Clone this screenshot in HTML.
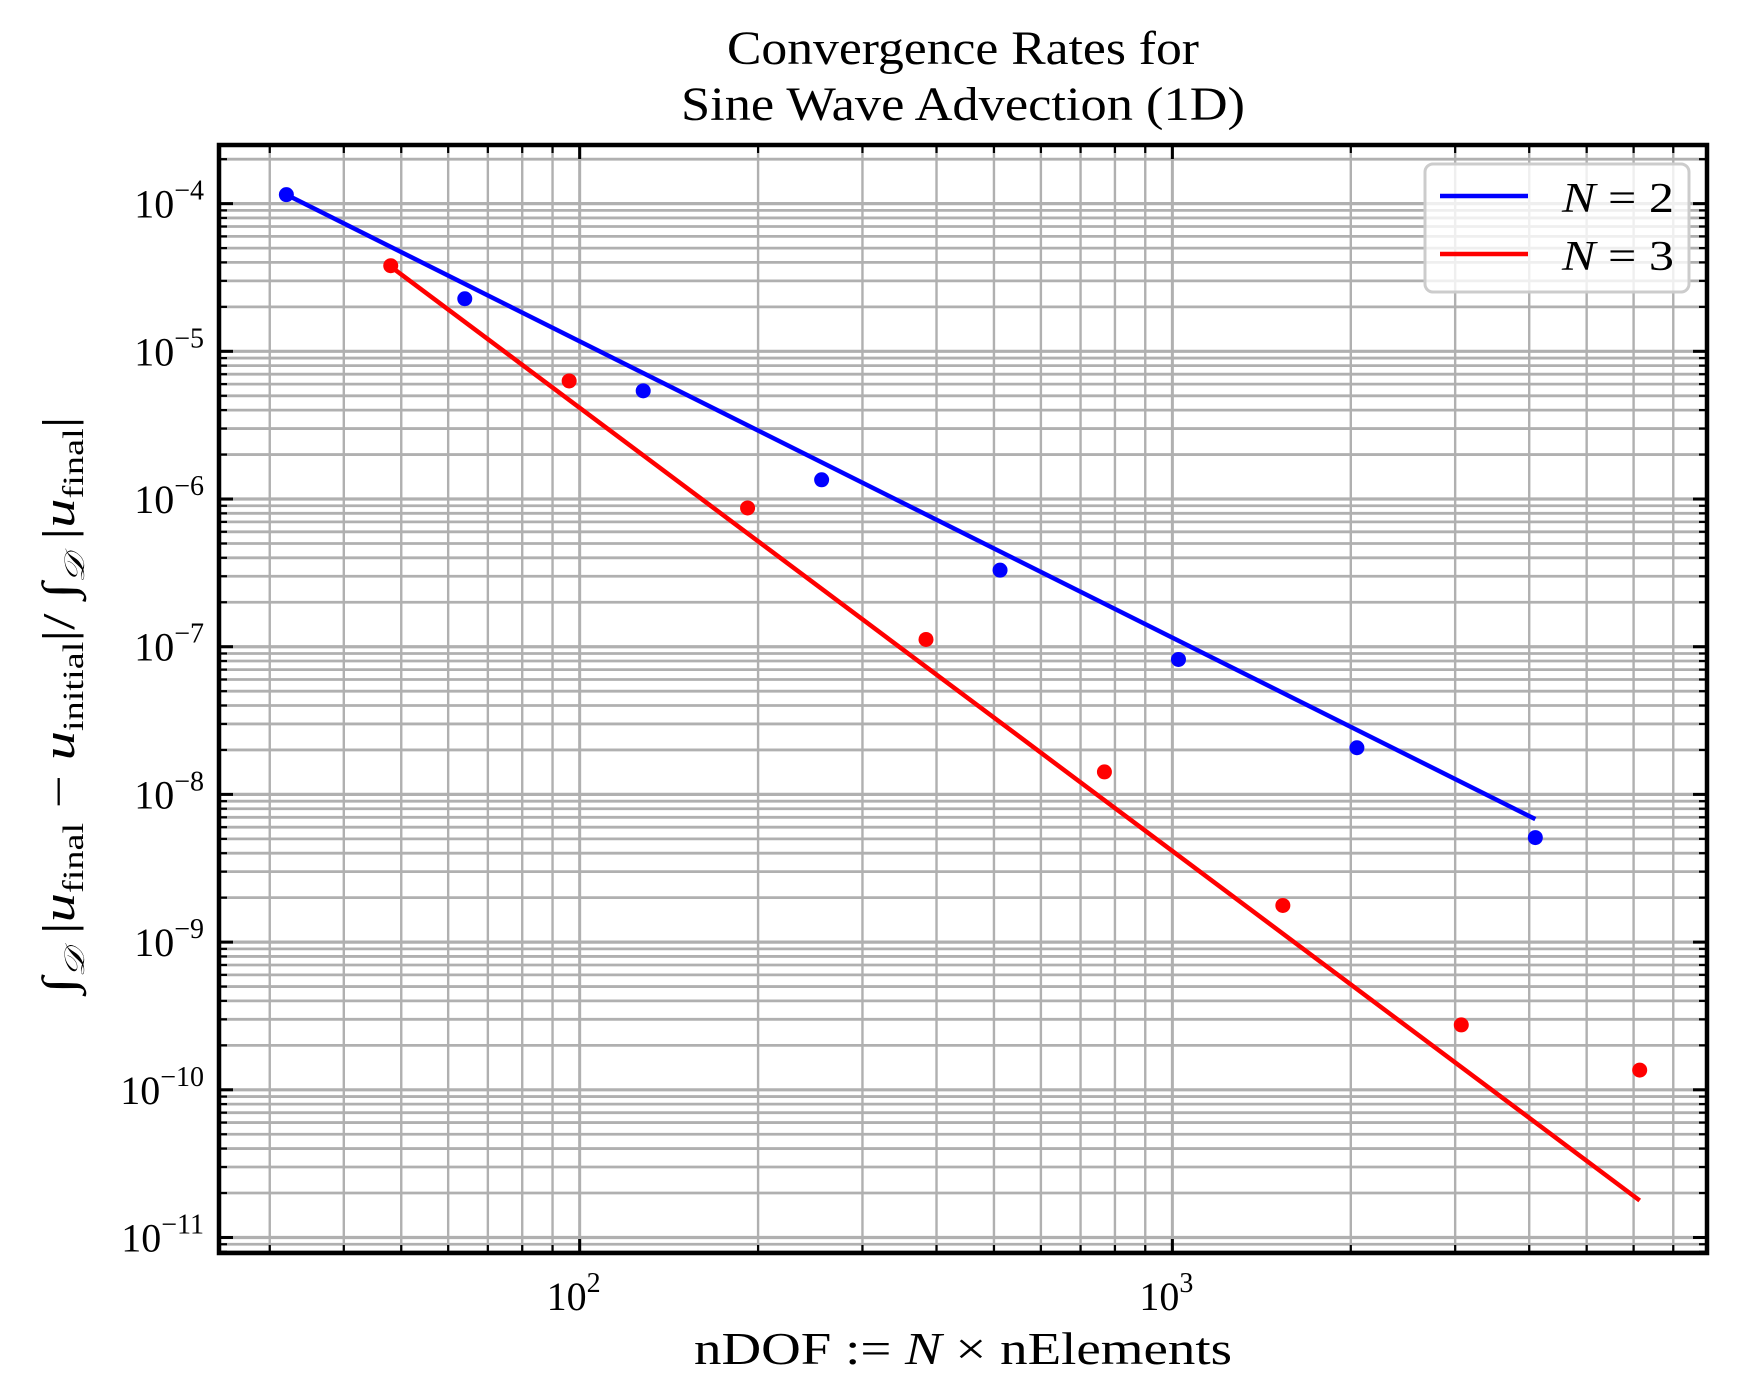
<!DOCTYPE html>
<html><head><meta charset="utf-8"><style>
body{margin:0;background:#fff}
svg{display:block;font-family:"Liberation Serif",serif}
</style></head><body>
<svg id="chart" width="1737" height="1395" viewBox="0 0 1737 1395" xmlns="http://www.w3.org/2000/svg">
<rect width="1737" height="1395" fill="#fff"/>
<g id="grid"></g>
<g id="ticks"></g>
<g id="series"></g>
<rect x="219" y="145" width="1488" height="1108" fill="none" stroke="#000" stroke-width="4.5"/>
<g font-size="48" text-anchor="middle">
<text x="963" y="64" textLength="472" lengthAdjust="spacingAndGlyphs">Convergence Rates for</text>
<text x="963" y="120" textLength="564" lengthAdjust="spacingAndGlyphs">Sine Wave Advection (1D)</text>
</g>
<text x="963" y="1364" font-size="46" text-anchor="middle" textLength="538" lengthAdjust="spacingAndGlyphs">nDOF := <tspan font-style="italic">N</tspan> × nElements</text>
<text transform="translate(74,705) rotate(-90)" font-size="46" text-anchor="middle" textLength="577" lengthAdjust="spacingAndGlyphs">∫<tspan font-size="28" dy="10" font-style="italic">𝒟</tspan><tspan dy="-10"> |</tspan><tspan font-style="italic">u</tspan><tspan font-size="30" dy="9">final</tspan><tspan dy="-9"> − </tspan><tspan font-style="italic">u</tspan><tspan font-size="30" dy="9">initial</tspan><tspan dy="-9">|/ ∫</tspan><tspan font-size="28" dy="10" font-style="italic">𝒟</tspan><tspan dy="-10"> |</tspan><tspan font-style="italic">u</tspan><tspan font-size="30" dy="9">final</tspan><tspan dy="-9">|</tspan></text>
<g>
<rect x="1425" y="164" width="264" height="128" rx="8" fill="#fff" fill-opacity="0.8" stroke="#ccc" stroke-width="3"/>
<line x1="1440" y1="196" x2="1528" y2="196" stroke="#00f" stroke-width="4.5"/>
<text x="1562" y="212" font-size="42" textLength="112" lengthAdjust="spacingAndGlyphs"><tspan font-style="italic">N</tspan> = 2</text>
<line x1="1440" y1="254" x2="1528" y2="254" stroke="#f00" stroke-width="4.5"/>
<text x="1562" y="270" font-size="42" textLength="112" lengthAdjust="spacingAndGlyphs"><tspan font-style="italic">N</tspan> = 3</text>
</g>
</svg>
<script>
const blueX=[32,64,128,256,512,1024,2048,4096];
const blueY=[1.15e-4,2.27e-5,5.4e-6,1.35e-6,3.3e-7,8.2e-8,2.07e-8,5.1e-9];
const redX=[48,96,192,384,768,1536,3072,6144];
const redY=[3.8e-5,6.3e-6,8.7e-7,1.12e-7,1.42e-8,1.77e-9,2.75e-10,1.36e-10];
const blueFitX=[32,4096];
const blueFitY=[1.15e-4,6.8e-9];
const redFitX=[48,6144];
const redFitY=[3.75e-5,1.78e-11];
const xTickVals=[100,1000];
const xTickLabels=["2","3"];
const yTickExps=[-4,-5,-6,-7,-8,-9,-10,-11];

const L=219,R=1707,T=145,B=1253;
const lx0=1.3915,lx1=3.902,ly0=-11.105,ly1=-3.603;
function X(v){return L+(Math.log10(v)-lx0)/(lx1-lx0)*(R-L);}
function Y(v){return T+(ly1-Math.log10(v))/(ly1-ly0)*(B-T);}
const NS="http://www.w3.org/2000/svg";
function mk(tag,attrs,parent){const e=document.createElementNS(NS,tag);for(const k in attrs)e.setAttribute(k,attrs[k]);parent.appendChild(e);return e;}
const grid=document.getElementById('grid'),ticks=document.getElementById('ticks'),series=document.getElementById('series');
for(let d=1;d<=3;d++){for(let m=1;m<10;m++){const v=m*Math.pow(10,d);const lv=Math.log10(v);if(lv<lx0||lv>lx1)continue;const x=X(v);
const g=mk('line',{x1:x,y1:T,x2:x,y2:B,stroke:'#b0b0b0','stroke-width':m===1?3:2.4},grid);


const len=m===1?14:8;
mk('line',{x1:x,y1:B,x2:x,y2:B-len,stroke:'#000','stroke-width':m===1?3:2.2},ticks);
mk('line',{x1:x,y1:T,x2:x,y2:T+len,stroke:'#000','stroke-width':m===1?3:2.2},ticks);}}
for(let d=-12;d<=-4;d++){for(let m=1;m<10;m++){const v=m*Math.pow(10,d);const lv=Math.log10(v);if(lv<ly0||lv>ly1)continue;const y=Y(v);
const g=mk('line',{x1:L,y1:y,x2:R,y2:y,stroke:'#b0b0b0','stroke-width':m===1?3.2:2.8},grid);


const len=m===1?14:8;
mk('line',{x1:L,y1:y,x2:L+len,y2:y,stroke:'#000','stroke-width':m===1?3:2.2},ticks);
mk('line',{x1:R,y1:y,x2:R-len,y2:y,stroke:'#000','stroke-width':m===1?3:2.2},ticks);}}
xTickVals.forEach((v,i)=>{const t=mk('text',{x:X(v)-6,y:1310,'font-size':40,'text-anchor':'middle'},ticks);


t.innerHTML='10<tspan font-size="28" dy="-18">'+xTickLabels[i]+'</tspan>';});
yTickExps.forEach(e=>{const t=mk('text',{x:204,y:Y(Math.pow(10,e))+14,'font-size':40,'text-anchor':'end'},ticks);


t.innerHTML='10<tspan font-size="28" dy="-18">−'+Math.abs(e)+'</tspan>';});
function fit(xs,ys,color,name){const l=mk('line',{x1:X(xs[0]),y1:Y(ys[0]),x2:X(xs[1]),y2:Y(ys[1]),stroke:color,'stroke-width':4.5},series);

}
fit(blueFitX,blueFitY,'#00f','fit-line-n2');
fit(redFitX,redFitY,'#f00','fit-line-n3');
function pts(xs,ys,color,name){xs.forEach((x,i)=>{const c=mk('circle',{cx:X(x),cy:Y(ys[i]),r:7.5,fill:color},series);

});}
pts(blueX,blueY,'#00f','point-n2');
pts(redX,redY,'#f00','point-n3');
</script>
</body></html>
